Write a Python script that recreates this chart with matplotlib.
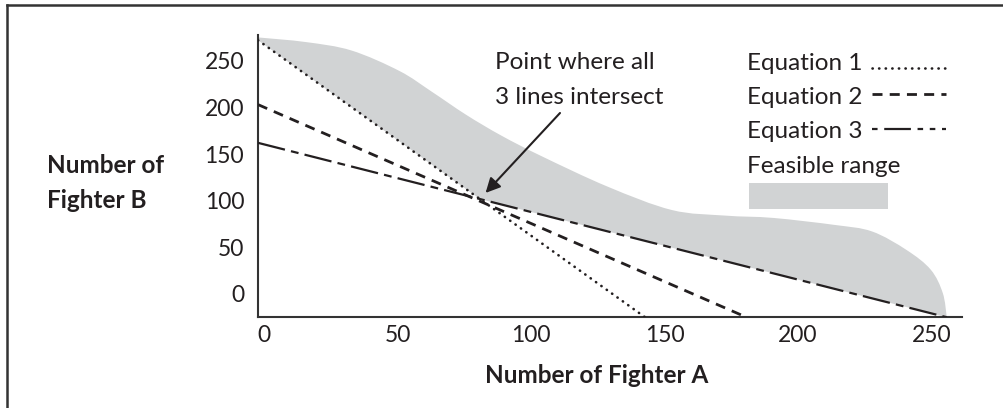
import matplotlib.pyplot as plt
import numpy as np
from matplotlib.lines import Line2D
from matplotlib.patches import PathPatch, Rectangle
from matplotlib.path import Path
from matplotlib.transforms import ScaledTranslation

plt.rcParams['font.family'] = ['Lato', 'DejaVu Sans']

# Constraint lines, from the B axis down to where each meets the A axis
eq1_x = [0, 145]
eq1_y = [272, -25]
eq2_x = [0, 183]
eq2_y = [203, -25]
eq3_x = [0, 258]
eq3_y = [162, -25]

# Upper edge of the feasible region
top_x = [0, 18, 35, 53, 65, 78, 91, 106, 131, 155, 175, 193, 216, 230, 243, 252, 256.5, 258]
top_y = [275, 270, 261, 239, 217, 192, 170, 148, 115, 90, 84, 81.5, 74, 67, 47, 26, 1, -25]

x_ticks = [0, 50, 100, 150, 200, 250]
y_ticks = [0, 50, 100, 150, 200, 250]

legend_labels = ["Equation 1", "Equation 2", "Equation 3", "Feasible range"]

ink = "#231f20"
shade = "#d1d3d4"
W, H = 1004, 408
FS = 17.5


def fpos(px, py):
    # pixel position (from top-left) -> figure fraction
    return px / W, 1 - py / H


def smooth_segments(xs, ys):
    # Catmull-Rom through the points, written as cubic Bezier pieces
    pts = np.column_stack([xs, ys]).astype(float)
    ext = np.vstack([pts[0], pts, pts[-1]])
    verts, codes = [pts[0]], [Path.MOVETO]
    for i in range(1, len(ext) - 2):
        p0, p1, p2, p3 = ext[i - 1], ext[i], ext[i + 1], ext[i + 2]
        verts += [p1 + (p2 - p0) / 6, p2 - (p3 - p1) / 6, p2]
        codes += [Path.CURVE4] * 3
    return verts, codes


fig = plt.figure(figsize=(W / 100, H / 100), dpi=100)
ax = fig.add_axes([258 / W, 1 - 317 / H, 704 / W, 282 / H])
ax.set_xlim(0, 263.7)
ax.set_ylim(-24.7, 277.6)

# where equation 1 and equation 3 cross
p1 = np.polyfit(eq1_x, eq1_y, 1)
p3 = np.polyfit(eq3_x, eq3_y, 1)
ix = (p3[1] - p1[1]) / (p1[0] - p3[0])
iy = np.polyval(p1, ix)

# feasible region: smooth upper edge, closed along equations 3 and 1
verts, codes = smooth_segments(top_x, top_y)
verts += [(ix, iy), (eq1_x[0], eq1_y[0]), (0, 0)]
codes += [Path.LINETO, Path.LINETO, Path.CLOSEPOLY]
ax.add_patch(PathPatch(Path(verts, codes), facecolor=shade, lw=0, zorder=1))

eq1_style = dict(color=ink, lw=1.9, linestyle=(0, (0.1, 2.4)),
                 dash_capstyle="round")
eq2_style = dict(color=ink, lw=2.0, linestyle=(0, (3.6, 2.6)))
eq3_style = dict(color=ink, lw=1.6, linestyle=(0, (12.5, 2.8, 3.5, 2.8)))

ax.plot(eq1_x, eq1_y, zorder=3, **eq1_style)
ax.plot(eq2_x, eq2_y, zorder=3, **eq2_style)
ax.plot(eq3_x, eq3_y, zorder=3, **eq3_style)

for side in ["top", "right"]:
    ax.spines[side].set_visible(False)
for side in ["left", "bottom"]:
    ax.spines[side].set_linewidth(1.5)
    ax.spines[side].set_color("#333333")

ax.set_xticks(x_ticks)
ax.set_yticks(y_ticks)
ax.tick_params(length=0, labelsize=16.5, colors=ink)
ax.tick_params(axis="x", pad=6)
ax.tick_params(axis="y", pad=10)
for lab in ax.get_xticklabels():
    lab.set_transform(lab.get_transform()
                      + ScaledTranslation(0.06, 0, fig.dpi_scale_trans))

# axis titles
fig.text(*fpos(597, 383), "Number of Fighter A", ha="center", va="baseline",
         fontsize=FS, fontweight="bold", color=ink)
fig.text(*fpos(47, 173), "Number of", ha="left", va="baseline",
         fontsize=FS, fontweight="bold", color=ink)
fig.text(*fpos(47, 208), "Fighter B", ha="left", va="baseline",
         fontsize=FS, fontweight="bold", color=ink)

# callout for the crossing point
fig.text(*fpos(495, 69), "Point where all", ha="left", va="baseline",
         fontsize=FS, color=ink)
fig.text(*fpos(495, 104), "3 lines intersect", ha="left", va="baseline",
         fontsize=FS, color=ink)
ax.annotate("", xy=(ix, iy), xytext=fpos(560, 113),
            textcoords="figure fraction",
            arrowprops=dict(arrowstyle="-|>", color=ink, lw=1.5,
                            mutation_scale=22, shrinkA=0, shrinkB=6))

# legend
baselines = [70, 104, 138, 173]
for lab, yb in zip(legend_labels, baselines):
    fig.text(*fpos(747, yb), lab, ha="left", va="baseline",
             fontsize=FS, color=ink)
eq3_key = dict(eq3_style, linestyle=(0, (2.5, 3, 12, 3, 2.5, 3, 2.5, 3)))
for style, yl in [(eq1_style, 68), (eq2_style, 94), (eq3_key, 129)]:
    x0, y0 = fpos(872, yl)
    x1, _ = fpos(946, yl)
    fig.add_artist(Line2D([x0, x1], [y0, y0], transform=fig.transFigure,
                          **style))
bx, by = fpos(749, 209)
fig.add_artist(Rectangle((bx, by), 139 / W, 26 / H,
                         transform=fig.transFigure, color=shade, lw=0))

# outer frame (top and left edges)
fx, fy = fpos(7, 5)
fig.add_artist(Line2D([fx, 1], [fy, fy], transform=fig.transFigure,
                      color="#333333", lw=1.8))
fig.add_artist(Line2D([fx, fx], [fy, 0], transform=fig.transFigure,
                      color="#333333", lw=1.8))

fig.savefig("out.png", dpi=100)
